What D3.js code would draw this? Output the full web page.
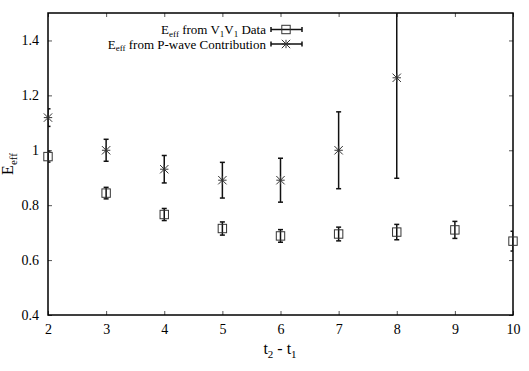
<!DOCTYPE html>
<html><head><meta charset="utf-8">
<script src="https://cdn.jsdelivr.net/npm/d3@7"></script>
<style>body{margin:0;background:#fff}svg{display:block}svg text{font-family:"Liberation Serif","Times New Roman",serif !important;fill:#000}</style>
</head><body><svg id="c" width="529" height="371" font-family="Liberation Serif"></svg>
<script>
const tSep = [2,3,4,5,6,7,8,9,10];
const v1Val = [0.977,0.844,0.766,0.715,0.688,0.695,0.702,0.710,0.669];
const v1Err = [0.020,0.021,0.022,0.024,0.023,0.025,0.028,0.031,0.036];
const pwT = [2,3,4,5,6,7,8];
const pwVal = [1.119,1.000,0.931,0.891,0.891,1.000,1.264];
const pwErr = [0.032,0.040,0.050,0.065,0.080,0.140,0.366];
const xTicks = [2,3,4,5,6,7,8,9,10];
const yTicks = [0.4,0.6,0.8,1.0,1.2,1.4];
const legendLabels = [["E","eff"," from V","1","V","1"," Data"],["E","eff"," from P-wave Contribution"]];

const svg = d3.select("#c");
const L=48,R=513,T=13,B=315;
const x = d3.scaleLinear().domain([2,10]).range([L,R]);
const y = d3.scaleLinear().domain([0.4,1.5]).range([B,T]);

svg.append("defs").append("clipPath").attr("id","clip").append("rect")
  .attr("x",L).attr("y",T).attr("width",R-L).attr("height",B-T);

const fmt = d3.format("~g");
const gx = svg.append("g").attr("transform",`translate(0,${B})`)
  .call(d3.axisBottom(x).tickValues(xTicks).tickSize(-4).tickPadding(9).tickFormat(fmt));
const gxt = svg.append("g").attr("transform",`translate(0,${T})`)
  .call(d3.axisTop(x).tickValues(xTicks).tickSize(-4).tickFormat(""));
const gy = svg.append("g").attr("transform",`translate(${L},0)`)
  .call(d3.axisLeft(y).tickValues(yTicks).tickSize(-4).tickPadding(9).tickFormat(fmt));
const gyr = svg.append("g").attr("transform",`translate(${R},0)`)
  .call(d3.axisRight(y).tickValues(yTicks).tickSize(-4).tickFormat(""));
[gx,gxt,gy,gyr].forEach(g=>{
  g.attr("font-family","Liberation Serif").attr("font-size",14);
  g.select(".domain").remove();
  g.selectAll(".tick line").attr("stroke","#555").attr("stroke-width",1);
  g.selectAll("text").attr("font-size",14);
});
svg.append("rect").attr("x",L).attr("y",T).attr("width",R-L).attr("height",B-T)
  .attr("fill","none").attr("stroke","#000").attr("stroke-width",1.5);

const plot = svg.append("g").attr("clip-path","url(#clip)");
const cap = 2.5;
function errbars(g, xs, vs, es){
  xs.forEach((t,i)=>{
    const cx=x(t), y0=y(vs[i]-es[i]), y1=y(vs[i]+es[i]);
    g.append("line").attr("x1",cx).attr("x2",cx).attr("y1",y0).attr("y2",y1);
    g.append("line").attr("x1",cx-cap).attr("x2",cx+cap).attr("y1",y0).attr("y2",y0);
    g.append("line").attr("x1",cx-cap).attr("x2",cx+cap).attr("y1",y1).attr("y2",y1);
  });
}
const eb = plot.append("g").attr("stroke","#111").attr("stroke-width",1.5);
errbars(eb, tSep, v1Val, v1Err);
errbars(eb, pwT, pwVal, pwErr);

const sq = 4.2;
function square(g,cx,cy){
  g.append("rect").attr("x",cx-sq).attr("y",cy-sq).attr("width",2*sq).attr("height",2*sq)
    .attr("fill","none").attr("stroke","#333").attr("stroke-width",1);
}
const st = 4.2;
function star(g,cx,cy){
  const p = `M${cx-st},${cy}H${cx+st}M${cx},${cy-st}V${cy+st}M${cx-st},${cy-st}L${cx+st},${cy+st}M${cx-st},${cy+st}L${cx+st},${cy-st}`;
  g.append("path").attr("d",p).attr("fill","none").attr("stroke","#333").attr("stroke-width",1);
}
const mk = svg.append("g");
tSep.forEach((t,i)=>square(mk,x(t),y(v1Val[i])));
pwT.forEach((t,i)=>star(mk,x(t),y(pwVal[i])));

// legend
const legY=[29.5,44];
legendLabels.forEach((parts,k)=>{
  const tx = svg.append("text").attr("x",266).attr("y",legY[k]+4.5).attr("text-anchor","end").attr("font-size",13);
  parts.forEach((p,j)=>{
    const sub = (j%2===1);
    tx.append("tspan").text(p).attr("font-size",sub?9:13).attr("dy",sub?2.5:(j>0?-2.5:0));
  });
  const lg = svg.append("g").attr("stroke","#111").attr("stroke-width",1.5);
  const x0=271,x1=302,cy=legY[k];
  lg.append("line").attr("x1",x0).attr("x2",x1).attr("y1",cy).attr("y2",cy);
  lg.append("line").attr("x1",x0).attr("x2",x0).attr("y1",cy-2.5).attr("y2",cy+2.5);
  lg.append("line").attr("x1",x1).attr("x2",x1).attr("y1",cy-2.5).attr("y2",cy+2.5);
  if(k===0) square(svg,286,cy); else star(svg,286,cy);
});

const xl = svg.append("text").attr("x",280).attr("y",354).attr("text-anchor","middle").attr("font-size",16);
xl.append("tspan").text("t");
xl.append("tspan").text("2").attr("font-size",11).attr("dy",4);
xl.append("tspan").text(" - t").attr("dy",-4);
xl.append("tspan").text("1").attr("font-size",11).attr("dy",4);
const yl = svg.append("text").attr("transform","translate(13,164) rotate(-90)").attr("text-anchor","middle").attr("font-size",16);
yl.append("tspan").text("E");
yl.append("tspan").text("eff").attr("font-size",11).attr("dy",4);
</script></body></html>
